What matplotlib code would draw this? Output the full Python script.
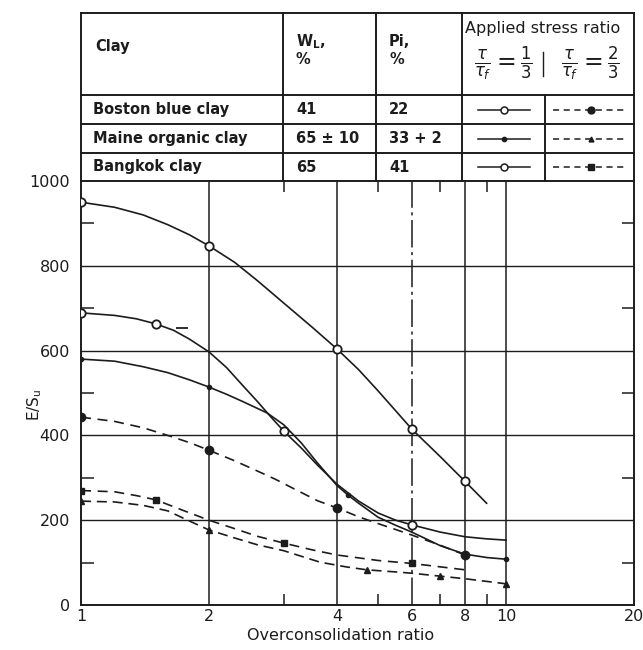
import matplotlib.pyplot as plt
from matplotlib.ticker import FixedLocator, NullFormatter

plt.rcParams['font.family'] = ['DejaVu Sans']
plt.rcParams['mathtext.fontset'] = 'dejavusans'

INK = '#1c1c1c'

# E/Su vs overconsolidation ratio
ocr_boston_13 = [1, 1.2, 1.4, 1.6, 1.8, 2, 2.3, 2.6, 3, 3.5, 4, 4.5, 5, 5.5,
                 6, 7, 8, 9]
es_boston_13 = [950, 938, 920, 897, 873, 847, 808, 765, 712, 655, 604, 555,
                505, 458, 415, 350, 292, 240]

ocr_bangkok_13 = [1, 1.2, 1.35, 1.5, 1.65, 1.8, 2, 2.2, 2.4, 2.6, 2.8, 3,
                  3.3, 3.6, 4, 4.5, 5, 5.5, 6, 7, 8, 9, 10]
es_bangkok_13 = [689, 683, 675, 663, 648, 627, 597, 560, 518, 480, 443, 410,
                 370, 330, 285, 245, 217, 200, 189, 172, 161, 156, 153]

ocr_maine_13 = [1, 1.2, 1.4, 1.6, 1.8, 2, 2.2, 2.4, 2.74, 3, 3.3, 3.6, 4,
                4.25, 4.5, 5, 5.5, 6, 7, 8, 9, 10]
es_maine_13 = [580, 575, 562, 548, 531, 514, 497, 480, 453, 425, 382, 335,
               282, 259, 240, 207, 188, 172, 140, 120, 112, 108]

ocr_boston_23 = [1, 1.2, 1.4, 1.6, 1.8, 2, 2.3, 2.6, 2.86, 3.2, 3.6, 4, 4.5,
                 5, 5.5, 6, 7, 8]
es_boston_23 = [443, 433, 418, 400, 383, 365, 340, 316, 297, 272, 246, 229,
                208, 192, 178, 165, 141, 118]

ocr_bangkok_23 = [1, 1.2, 1.35, 1.5, 1.75, 2, 2.3, 2.6, 3, 3.5, 4, 5, 6, 7, 8]
es_bangkok_23 = [270, 267, 258, 248, 222, 200, 180, 162, 146, 130, 118, 105,
                 98, 90, 83]

ocr_maine_23 = [1, 1.2, 1.4, 1.6, 1.8, 2, 2.3, 2.6, 3, 3.65, 4.2, 4.7, 5.5,
                6, 7, 8, 10]
es_maine_23 = [245, 243, 235, 222, 198, 177, 158, 142, 128, 101, 90, 83, 78,
               75, 68, 62, 50]

# odd single point near OCR 1.7
ocr_stray = [1.73]
es_stray = [653]

x_ticks = [1, 2, 4, 6, 8, 10, 20]
x_minor = [3, 5, 7, 9]
x_grid = [2, 4, 6, 8, 10]
y_ticks = [0, 200, 400, 600, 800, 1000]
y_minor = [100, 300, 500, 700, 900]
y_grid = [200, 400, 600, 800]

clays = ['Boston blue clay', 'Maine organic clay', 'Bangkok clay']
liquid_limit = ['41', '65 \u00b1 10', '65']
plasticity = ['22', '33 + 2', '41']

W, H = 643, 650
fig = plt.figure(figsize=(W / 100, H / 100), dpi=100)

# plot box in pixel terms: x 81..634, y 181..605
ax = fig.add_axes([81 / W, (H - 605) / H, (634 - 81) / W, (605 - 181) / H])
ax.set_xscale('log')
ax.set_xlim(1, 20)
ax.set_ylim(0, 1000)

for x in x_grid:
    if x == 6:
        ax.axvline(x, color=INK, lw=1.1, dashes=(18, 3, 2, 3), zorder=1)
    else:
        ax.axvline(x, color=INK, lw=1.1, zorder=1)
for y in y_grid:
    ax.axhline(y, color=INK, lw=1.0, zorder=1)

lw = 1.2
ax.plot(ocr_boston_13, es_boston_13, '-', color=INK, lw=lw, marker='o', ms=6,
        mfc='white', mec=INK, mew=1.3, markevery=[0, 5, 10, 14, 16], zorder=3)
ax.plot(ocr_bangkok_13, es_bangkok_13, '-', color=INK, lw=lw, marker='o', ms=6,
        mfc='white', mec=INK, mew=1.3, markevery=[0, 3, 11, 18], zorder=3)
ax.plot(ocr_maine_13, es_maine_13, '-', color=INK, lw=lw, marker='o', ms=3,
        mfc=INK, mec=INK, markevery=[0, 5, 13, 21], zorder=3)
ax.plot(ocr_boston_23, es_boston_23, '--', color=INK, lw=lw, dashes=(6, 4),
        marker='o', ms=6, mfc=INK, mec=INK, markevery=[0, 5, 11, 17], zorder=3)
ax.plot(ocr_bangkok_23, es_bangkok_23, '--', color=INK, lw=lw, dashes=(6, 4),
        marker='s', ms=5, mfc=INK, mec=INK, markevery=[0, 3, 8, 12], zorder=3)
ax.plot(ocr_maine_23, es_maine_23, '--', color=INK, lw=lw, dashes=(6, 3.5),
        marker='^', ms=4, mfc=INK, mec=INK, markevery=[0, 5, 11, 14, 16],
        zorder=3)
ax.plot(ocr_stray, es_stray, linestyle='none', marker='_', ms=8, mew=1.3,
        color=INK, zorder=3)

ax.xaxis.set_major_locator(FixedLocator(x_ticks))
ax.set_xticklabels([str(t) for t in x_ticks])
ax.xaxis.set_minor_locator(FixedLocator(x_minor))
ax.xaxis.set_minor_formatter(NullFormatter())
ax.yaxis.set_major_locator(FixedLocator(y_ticks))
ax.set_yticklabels([str(t) for t in y_ticks])
ax.yaxis.set_minor_locator(FixedLocator(y_minor))
ax.tick_params(axis='both', which='major', length=0, labelsize=11.5,
               colors=INK)
ax.tick_params(axis='x', which='major', pad=3)
ax.tick_params(axis='y', which='major', pad=8)
ax.tick_params(axis='x', which='minor', direction='in', length=8, width=1.1,
               top=True, bottom=True, color=INK)
ax.tick_params(axis='y', which='minor', direction='in', length=9, width=1.1,
               left=True, right=True, color=INK)
for s in ax.spines.values():
    s.set_color(INK)
    s.set_linewidth(1.4)

fig.text(341 / W, 1 - 636 / H, 'Overconsolidation ratio', ha='center',
         va='center', fontsize=11.5, color=INK)
fig.text(35 / W, 1 - 405 / H, r'E/S$_\mathregular{u}$', rotation=90,
         ha='center', va='center', fontsize=11, color=INK)

# header table, drawn in pixel coordinates
tab = fig.add_axes([0, 0, 1, 1])
tab.set_xlim(0, W)
tab.set_ylim(H, 0)
tab.axis('off')
tab.patch.set_alpha(0)

tl = dict(color=INK, lw=1.4)
for y in [13, 95, 124, 153]:
    tab.plot([81, 634], [y, y], **tl)
for x in [81, 283, 376, 462, 634]:
    tab.plot([x, x], [13, 181], **tl)
tab.plot([545, 545], [95, 181], **tl)
tab.plot([543, 543], [52, 76], color=INK, lw=1.0)

txt = dict(fontsize=10.5, color=INK, va='center', fontweight='bold')
tab.text(95, 46, 'Clay', **txt)
tab.text(296, 42, r'W$_\mathregular{L}$,', **txt)
tab.text(296, 60, '%', **txt)
tab.text(389, 42, 'Pi,', **txt)
tab.text(389, 60, '%', **txt)
tab.text(465, 29, 'Applied stress ratio', fontsize=11.5, color=INK,
         va='center')
tab.text(503, 63, r'$\frac{\tau}{\tau_f}=\frac{1}{3}$', fontsize=17,
         color=INK, ha='center', va='center')
tab.text(590, 63, r'$\frac{\tau}{\tau_f}=\frac{2}{3}$', fontsize=17,
         color=INK, ha='center', va='center')

row_y = [109.5, 138.5, 167]
for y, name, wl, pi in zip(row_y, clays, liquid_limit, plasticity):
    tab.text(93, y, name, **txt)
    tab.text(296, y, wl, **txt)
    tab.text(389, y, pi, **txt)

# key samples: solid for tau/tauf = 1/3, dashed for 2/3
keys_13 = [dict(marker='o', ms=5, mfc='white'), dict(marker='o', ms=3, mfc=INK),
           dict(marker='o', ms=5, mfc='white')]
keys_23 = [dict(marker='o', ms=5, mfc=INK), dict(marker='^', ms=3.5, mfc=INK),
           dict(marker='s', ms=4.5, mfc=INK)]
for y, k1, k2 in zip(row_y, keys_13, keys_23):
    tab.plot([478, 530], [y, y], '-', color=INK, lw=1.1)
    tab.plot([504], [y], color=INK, mec=INK, mew=1.1, linestyle='none', **k1)
    tab.plot([553, 627], [y, y], color=INK, lw=1.1, dashes=(4, 3))
    tab.plot([591], [y], color=INK, mec=INK, linestyle='none', **k2)

fig.savefig('out.png', dpi=100, facecolor='white')
